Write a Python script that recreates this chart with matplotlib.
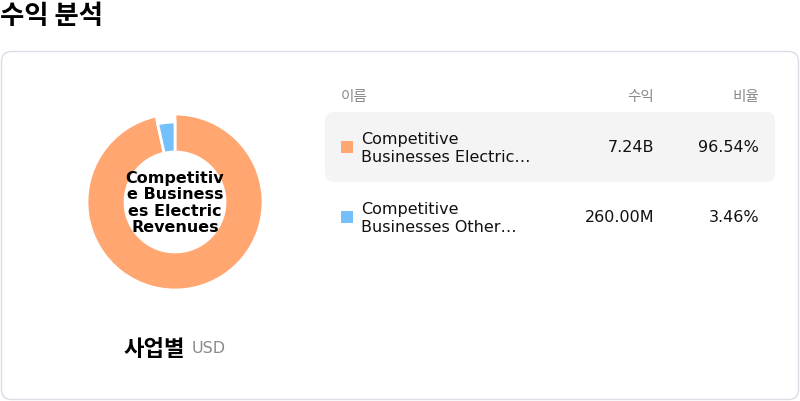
import matplotlib
matplotlib.use("Agg")
import matplotlib.pyplot as plt
from matplotlib.patches import FancyBboxPatch

# data
segments = ["Competitive Businesses Electric Revenues", "Competitive Businesses Other Revenues"]
row_labels = ["Competitive\nBusinesses Electric…", "Competitive\nBusinesses Other…"]
revenues = [7.24e9, 260.00e6]
revenue_labels = ["7.24B", "260.00M"]
shares = ["96.54%", "3.46%"]
colors = ["#FFA671", "#74C0FC"]
center_label = "Competitiv\ne Business\nes Electric\nRevenues"

W, H = 800, 402
KR = ["Noto Sans CJK KR", "DejaVu Sans"]

fig = plt.figure(figsize=(W / 100, H / 100), dpi=100)
bg = fig.add_axes([0, 0, 1, 1])
bg.set_xlim(0, W)
bg.set_ylim(H, 0)
bg.axis("off")

# title
bg.text(0, 16, "수익 분석", family=KR, fontsize=19, fontweight="bold", va="center", ha="left")

# card
card = FancyBboxPatch((1.5, 52.5), 797, 348, boxstyle="round,pad=0,rounding_size=10",
                      fc="white", ec="#dcdbe6", lw=1)
bg.add_patch(card)

# highlight row
hl = FancyBboxPatch((325, 113), 450, 70, boxstyle="round,pad=0,rounding_size=9",
                    fc="#f4f4f4", ec="none")
bg.add_patch(hl)

# table header
bg.text(341, 96.5, "이름", family=KR, fontsize=10.5, color="#8a8a8a", va="center")
bg.text(654, 96.5, "수익", family=KR, fontsize=10.5, color="#8a8a8a", va="center", ha="right")
bg.text(759, 96.5, "비율", family=KR, fontsize=10.5, color="#8a8a8a", va="center", ha="right")

row_y = [148, 218]
for y, lab, val, sh, c in zip(row_y, row_labels, revenue_labels, shares, colors):
    bg.add_patch(plt.Rectangle((341, y - 6), 12, 12, fc=c, ec="none"))
    bg.text(361, y + 0.5, lab, fontsize=11.5, va="center", ha="left", linespacing=1.25, color="#111111")
    bg.text(654, y, val, fontsize=11.5, va="center", ha="right", color="#111111")
    bg.text(759, y, sh, fontsize=11.5, va="center", ha="right", color="#111111")

# bottom caption
bg.text(124, 350, "사업별", family=KR, fontsize=16, fontweight="bold", va="center", ha="left")
bg.text(192, 349, "USD", fontsize=11.5, color="#8a8a8a", va="center", ha="left")

# donut
cx, cy, box = 175, 203, 200
ax = fig.add_axes([(cx - box / 2) / W, (H - cy - box / 2) / H, box / W, box / H])
wedges, _ = ax.pie(revenues, colors=colors, startangle=90, counterclock=False, radius=88,
                   wedgeprops=dict(width=38, edgecolor="white", linewidth=2))
wedges[1].set_radius(80)
wedges[1].set_width(30)
ax.set_xlim(-box / 2, box / 2)
ax.set_ylim(-box / 2, box / 2)
ax.set_aspect("equal")
ax.axis("off")
ax.text(0, 0, center_label, fontsize=11.5, fontweight="bold", ha="center", va="center",
        linespacing=1.12)

fig.savefig("out.png", dpi=100)
